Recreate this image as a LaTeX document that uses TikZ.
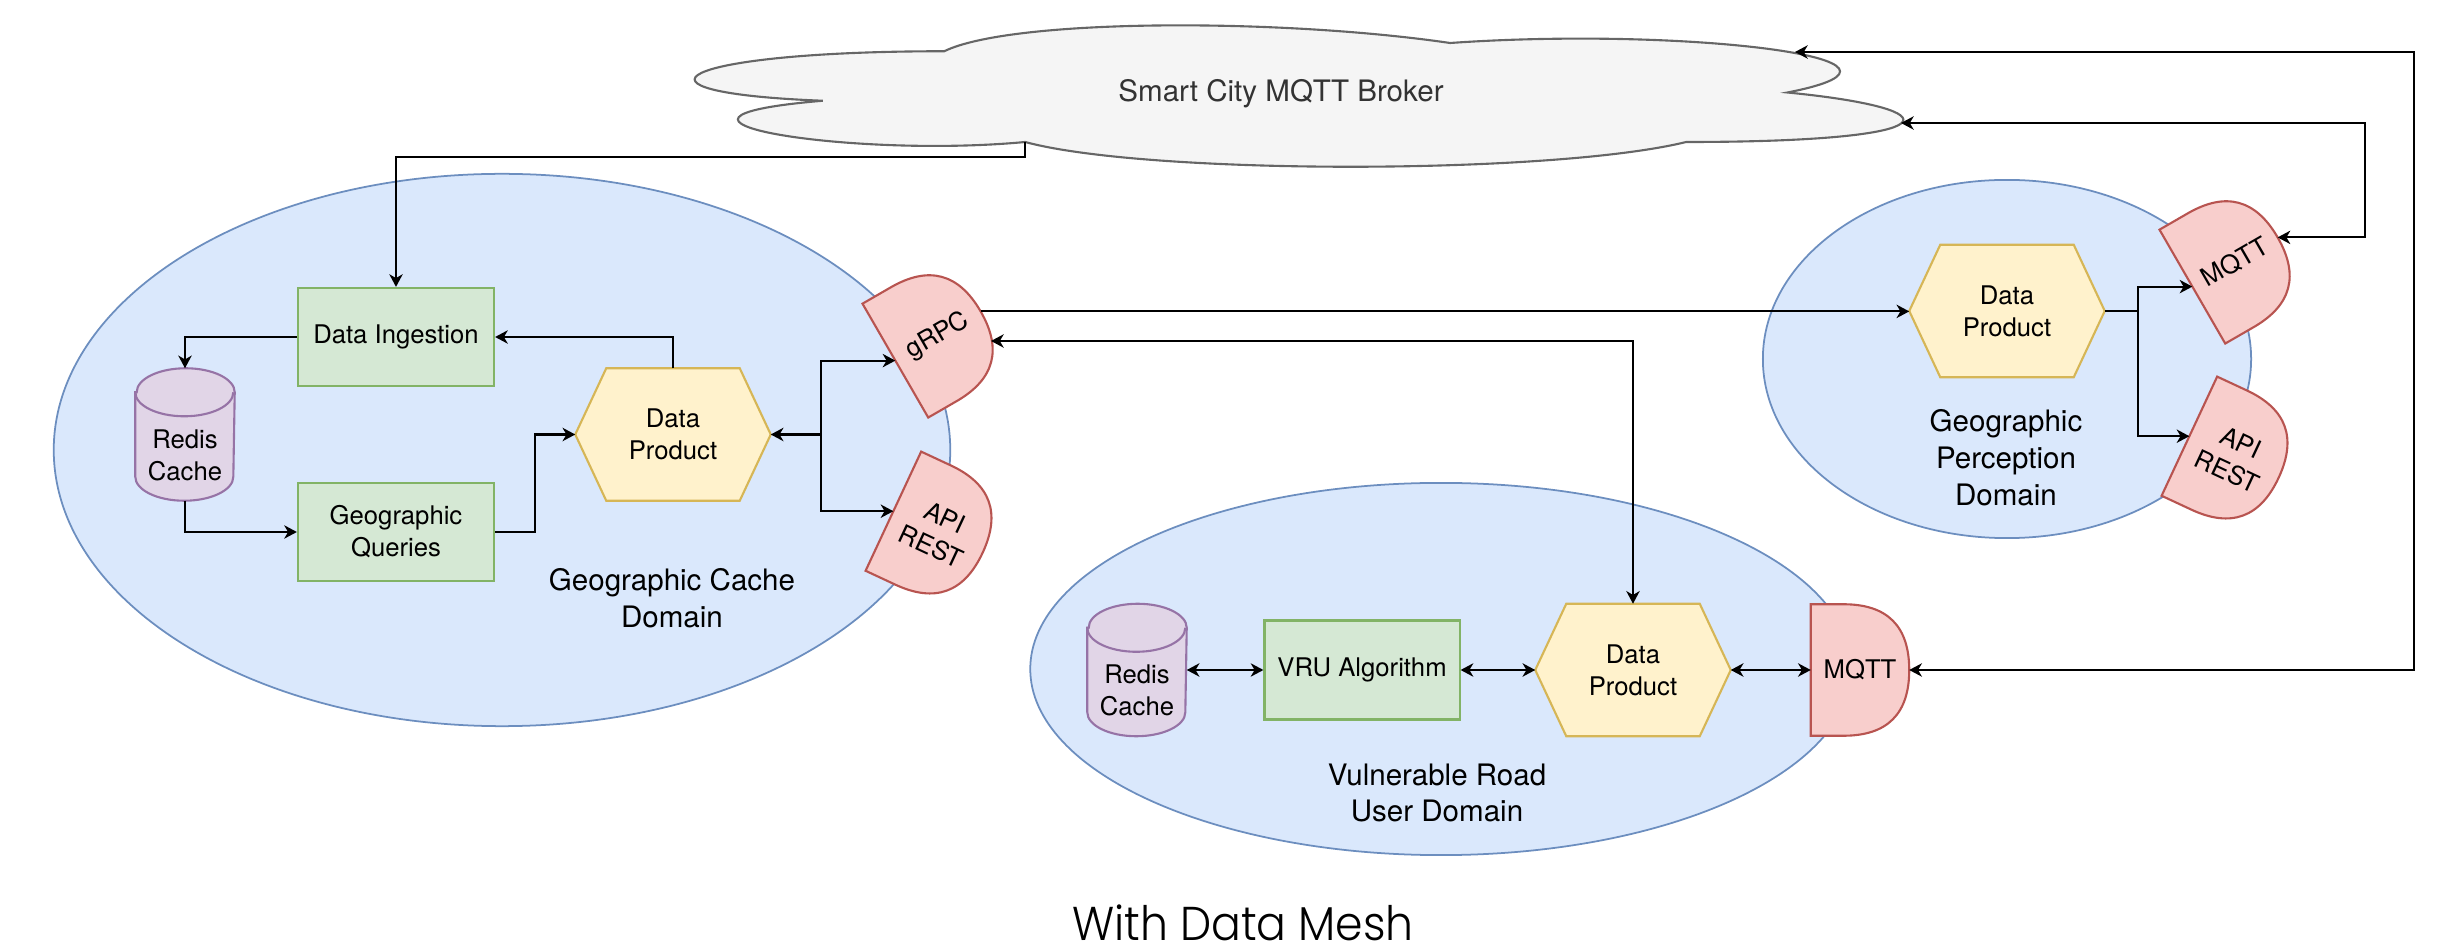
\documentclass[tikz,border=0pt]{standalone}
\usepackage{fontspec}
\setmainfont{TeX Gyre Heros}
\IfFontExistsTF{Poppins Light}{\newfontfamily\titlefont{Poppins Light}[FakeStretch=0.93]}{\newfontfamily\titlefont{Poppins}[FakeStretch=0.93]}
\usetikzlibrary{arrows.meta,calc,shapes.geometric}
\pgfdeclarelayer{bg}
\pgfdeclarelayer{shp}
\pgfsetlayers{bg,shp,main}
\definecolor{domfill}{HTML}{DAE8FC}\definecolor{domline}{HTML}{6C8EBF}
\definecolor{grfill}{HTML}{D5E8D4}\definecolor{grline}{HTML}{82B366}
\definecolor{yefill}{HTML}{FFF2CC}\definecolor{yeline}{HTML}{D6B656}
\definecolor{pufill}{HTML}{E1D5E7}\definecolor{puline}{HTML}{9673A6}
\definecolor{refill}{HTML}{F8CECC}\definecolor{reline}{HTML}{B85450}
\definecolor{clfill}{HTML}{F5F5F5}\definecolor{clline}{HTML}{666666}\definecolor{cltext}{HTML}{333333}
\newcommand\boxfont{\fontsize{7.3pt}{9.1pt}\selectfont}
\newcommand\labfont{\fontsize{8.4pt}{10.5pt}\selectfont}
\tikzset{
  every node/.style={font=\boxfont, inner sep=0pt, align=center},
  domst/.style={ellipse, draw=domline, fill=domfill, line width=0.5pt},
  procst/.style={rectangle, draw=grline, fill=grfill, line width=0.6pt, minimum width=1.96cm, minimum height=0.98cm},
  slotst/.style={rectangle, minimum width=0.97cm, minimum height=1.30cm},
  hexbox/.style={rectangle, minimum width=1.94cm, minimum height=1.31cm},
  cylbox/.style={rectangle, minimum width=0.98cm, minimum height=1.31cm},
  hexst/.style={draw=yeline, fill=yefill, line width=0.6pt},
  cylst/.style={draw=puline, fill=pufill, line width=0.6pt},
  dst/.style={draw=reline, fill=refill, line width=0.6pt},
  labst/.style={font=\labfont},
  conn/.style={line width=0.6pt, -{Stealth[length=3.6pt, width=3.8pt, inset=1.1pt]}},
  connb/.style={line width=0.6pt, {Stealth[length=3.6pt, width=3.8pt, inset=1.1pt]}-{Stealth[length=3.6pt, width=3.8pt, inset=1.1pt]}},
}
\newcommand\hexshape[1]{\draw[hexst] (#1.west) -- ([xshift=0.31cm]#1.north west) -- ([xshift=-0.31cm]#1.north east) -- (#1.east) -- ([xshift=-0.31cm]#1.south east) -- ([xshift=0.31cm]#1.south west) -- cycle;}
\newcommand\cylshape[1]{%
  \draw[cylst] ([yshift=-0.24cm]#1.north west) -- ([yshift=0.24cm]#1.south west) arc[start angle=180, end angle=360, x radius=0.49cm, y radius=0.24cm] -- ([yshift=-0.24cm]#1.north east) arc[start angle=0, end angle=180, x radius=0.49cm, y radius=0.24cm] -- cycle;
  \draw[cylst, fill=none] ([yshift=-0.24cm]#1.north west) arc[start angle=180, end angle=360, x radius=0.49cm, y radius=0.24cm];}
\newcommand\dshape[1]{\draw[dst] (#1.north west) -- ($(#1.north west)!0.333!(#1.north east)$) .. controls ($(#1.north west)!0.778!(#1.north east)$) and ($(#1.east)!0.667!(#1.north east)$) .. (#1.east) .. controls ($(#1.east)!0.667!(#1.south east)$) and ($(#1.south west)!0.778!(#1.south east)$) .. ($(#1.south west)!0.333!(#1.south east)$) -- (#1.south west) -- cycle;}
\begin{document}
\begin{tikzpicture}[x=0.01cm, y=-0.01cm]
\useasboundingbox (0,0) rectangle (2450,946);

% domains
\begin{pgfonlayer}{bg}
  \node[domst, minimum width=8.96cm, minimum height=5.52cm] (dom1) at (502,450) {};
  \node[domst, minimum width=8.21cm, minimum height=3.72cm] (dom2) at (1441,669) {};
  \node[domst, minimum width=4.88cm, minimum height=3.58cm] (dom3) at (2007,359) {};
\end{pgfonlayer}

% cloud
\draw[draw=clline, fill=clfill, line width=0.6pt]
  (944.25,51.25) .. controls (674.45,51.25) and (607,92.5) .. (822.84,100.75)
  .. controls (607,118.9) and (849.82,158.5) .. (1025.19,142)
  .. controls (1146.6,175) and (1551.3,175) .. (1686.2,142)
  .. controls (1956,142) and (1956,109) .. (1787.4,92.5)
  .. controls (1956,59.5) and (1686.2,26.5) .. (1450.1,43)
  .. controls (1281.5,18.25) and (1011.7,18.25) .. (944.25,51.25) -- cycle;
\node[font=\labfont, text=cltext] (broker) at (1281,94) {Smart City MQTT Broker};
\coordinate (cl-bl) at (1025.19,142);
\coordinate (cl-r) at (1901,123);
\coordinate (cl-tr) at (1795,52);

% Geographic Cache Domain
\node[procst] (di) at (396,337) {Data Ingestion};
\node[procst] (gq) at (396,532) {Geographic\\Queries};
\node[cylbox] (cyl1) at (185,434.5) {};
\node (cyl1t) at (185,455) {Redis\\Cache};
\node[hexbox] (dp1) at (673,434.5) {Data\\Product};
\node[slotst, rotate=30] (grpc) at (938,336) {gRPC};
\node[slotst, rotate=-25] (api1) at (938,532) {API\\REST};
\node[labst] (lab1) at (672,598) {Geographic Cache\\Domain};
\coordinate (grpc-b) at (991,341);

% Vulnerable Road User Domain
\node[cylbox] (cyl2) at (1137,670) {};
\node (cyl2t) at (1137,690) {Redis\\Cache};
\node[procst, minimum width=1.95cm, minimum height=0.99cm] (alg) at (1362,670) {VRU Algorithm};
\node[hexbox] (dp3) at (1633,670) {Data\\Product};
\node[slotst] (mqtt1) at (1860,670) {MQTT};
\node[labst] (lab2) at (1437,793) {Vulnerable Road\\User Domain};

% Geographic Perception Domain
\node[hexbox] (dp2) at (2007,311) {Data\\Product};
\node[slotst, rotate=30] (mqtt2) at (2235,262) {MQTT};
\node[slotst, rotate=-25] (api2) at (2234,457) {API\\REST};
\node[labst] (lab3) at (2006,458) {Geographic\\Perception\\Domain};

\begin{pgfonlayer}{shp}
  \hexshape{dp1}\hexshape{dp2}\hexshape{dp3}
  \cylshape{cyl1}\cylshape{cyl2}
  \dshape{grpc}\dshape{api1}\dshape{mqtt1}\dshape{mqtt2}\dshape{api2}
\end{pgfonlayer}

% connectors
\coordinate (k1) at (2365,0);
\coordinate (k2) at (2414,0);
\draw[conn] (cl-bl) -- ++(0,15) -| (di.north);
\draw[conn] (dp1.north) |- (di.east);
\draw[conn] (di.west) -| (cyl1.north);
\draw[conn] (cyl1.south) |- (gq.west);
\draw[conn] (gq.east) -- ++(40,0) |- (dp1.west);
\draw[connb] (dp1.east) -- ++(50,0) coordinate (j1) |- (grpc.west);
\draw[conn] (j1) |- (api1.west);
\draw[conn] (grpc.east) -- (grpc.east -| dp2.west);
\draw[connb] (dp3.north) |- (grpc-b);
\draw[conn] (dp2.east) -- ++(33,0) coordinate (j2) |- (mqtt2.west);
\draw[conn] (j2) |- (api2.west);
\draw[connb] (cl-r) -| (k1 |- mqtt2.east) -- (mqtt2.east);
\draw[connb] (cl-tr) -| (k2 |- mqtt1.east) -- (mqtt1.east);
\draw[connb] (cyl2.east) -- (alg.west);
\draw[connb] (alg.east) -- (dp3.west);
\draw[connb] (dp3.east) -- (mqtt1.west);

% title
\node[font=\titlefont\fontsize{13.5pt}{16pt}\selectfont, anchor=base, text depth=0pt] (title) at (1243,940) {With Data Mesh};
\end{tikzpicture}
\end{document}
